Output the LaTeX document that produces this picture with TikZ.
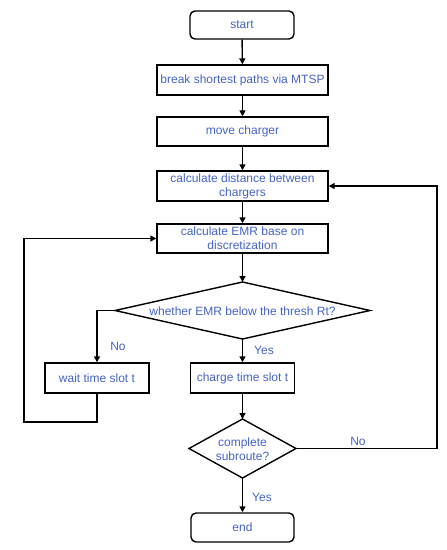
\documentclass[tikz,border=0pt]{standalone}
\usepackage{fontspec}
\setmainfont{Liberation Sans}
\usetikzlibrary{arrows.meta}
\definecolor{txtblue}{RGB}{70,100,200}
\tikzset{
  box/.style={draw=black, line width=1.4pt, rectangle, inner sep=0pt, align=center, text=txtblue, font=\fontsize{12}{14}\selectfont},
  term/.style={box, rounded corners=5pt},
  dectext/.style={inner sep=0pt, align=center, text=txtblue, font=\fontsize{12}{14}\selectfont},
  decshape/.style={draw=black, line width=1.4pt, line join=miter},
  conn/.style={draw=black, line width=1.4pt, -{Triangle[length=6pt,width=6pt]}},
  lbl/.style={text=txtblue, font=\fontsize{12}{14}\selectfont, inner sep=1pt}
}
\begin{document}
\begin{tikzpicture}[x=1pt,y=-1pt]
\useasboundingbox[fill=white] (0,0) rectangle (447,550);
\node[term, minimum width=104pt, minimum height=28pt] (start) at (242,25) {start};
\node[box, minimum width=171pt, minimum height=30pt] (break) at (242.5,80) {break shortest paths via MTSP};
\node[box, minimum width=171pt, minimum height=29pt] (move) at (242.5,131.5) {move charger};
\node[box, minimum width=171pt, minimum height=30pt] (dist) at (242.5,186) {calculate distance between\\chargers};
\node[box, minimum width=171pt, minimum height=29pt] (emr) at (242.5,238.5) {calculate EMR base on\\discretization};
% decision 1
\coordinate (d1t) at (242.5,282);
\coordinate (d1r) at (370,310.5);
\coordinate (d1b) at (242.5,339);
\coordinate (d1l) at (115,310.5);
\draw[decshape] (d1t) -- (d1r) -- (d1b) -- (d1l) -- cycle;
\node[dectext] (d1) at (242.5,311) {whether EMR below the thresh Rt?};
\node[box, minimum width=104pt, minimum height=30pt] (wait) at (97,378) {wait time slot t};
\node[box, minimum width=104pt, minimum height=30pt] (charge) at (242.5,378) {charge time slot t};
% decision 2
\coordinate (d2t) at (242.5,419);
\coordinate (d2r) at (296,448.5);
\coordinate (d2b) at (242.5,478);
\coordinate (d2l) at (189,448.5);
\draw[decshape] (d2t) -- (d2r) -- (d2b) -- (d2l) -- cycle;
\node[dectext] (d2) at (242.5,449) {complete\\subroute?};
\node[term, minimum width=103pt, minimum height=29pt] (end) at (242.5,527.5) {end};

\coordinate (l1) at (24,422);
\coordinate (r1) at (437,448.5);

\draw[conn] (start) -- (break);
\draw[conn] (break) -- (move);
\draw[conn] (move) -- (dist);
\draw[conn] (dist) -- (emr);
\draw[conn] (emr.south) -- (d1t);
\draw[conn] (d1l) -| (wait.north);
\draw[conn] (d1b) -- (charge.north);
\draw[conn] (charge.south) -- (d2t);
\draw[conn] (d2b) -- (end.north);
\draw[conn] (wait.south) |- (l1) |- (emr.west);
\draw[conn] (d2r) -- (r1) |- (dist.east);

\node[lbl] (no1) at (118,346) {No};
\node[lbl] (yes1) at (264,350) {Yes};
\node[lbl] (no2) at (358,441) {No};
\node[lbl] (yes2) at (262,497) {Yes};
\end{tikzpicture}
\end{document}
